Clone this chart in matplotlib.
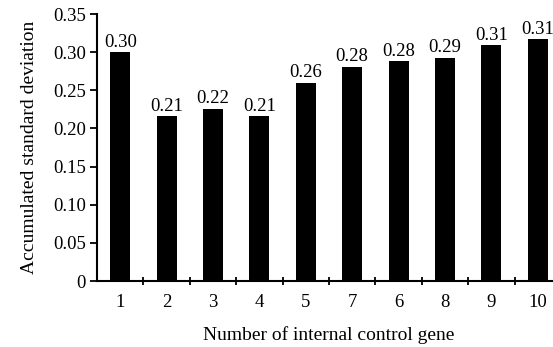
import matplotlib.pyplot as plt

plt.rcParams['font.family'] = ['Liberation Serif', 'DejaVu Serif']

# gene counts in the order shown on the x axis
genes = ['1', '2', '3', '4', '5', '7', '6', '8', '9', '10']
acc_sd = [0.300, 0.216, 0.226, 0.216, 0.260, 0.281, 0.288, 0.293, 0.309, 0.317]
bar_labels = ['0.30', '0.21', '0.22', '0.21', '0.26', '0.28', '0.28', '0.29', '0.31', '0.31']
yticks = [0, 0.05, 0.10, 0.15, 0.20, 0.25, 0.30, 0.35]
ytick_labels = ['0', '0.05', '0.10', '0.15', '0.20', '0.25', '0.30', '0.35']

fig = plt.figure(figsize=(5.53, 3.47), dpi=100)
ax = fig.add_axes([0.1754, 0.190, 0.839, 0.7695])

x = list(range(len(genes)))
bars = ax.bar(x, acc_sd, width=0.43, color='black')
for b, lab in zip(bars, bar_labels):
    ax.text(b.get_x() + b.get_width() / 2, b.get_height() + 0.002, lab,
            ha='center', va='bottom', fontsize=13.5)

ax.set_xlim(-0.5, 9.5)
ax.set_ylim(0, 0.35)
ax.set_yticks(yticks)
ax.set_yticklabels(ytick_labels)

# labels at bar centres, tick marks at boundaries between bars
ax.set_xticks(x)
ax.set_xticklabels(genes)
ax.set_xticks([i + 0.5 for i in range(len(genes) - 1)], minor=True)
ax.tick_params(axis='x', which='major', length=0, pad=9, labelsize=13.5)
ax.tick_params(axis='x', which='minor', length=6, width=1.3, direction='inout')
ax.tick_params(axis='y', length=5, width=1.3, labelsize=13.5, pad=3)

for s in ['top', 'right']:
    ax.spines[s].set_visible(False)
for s in ['left', 'bottom']:
    ax.spines[s].set_linewidth(1.5)

ax.set_xlabel('Number of internal control gene', fontsize=14, labelpad=11)
ax.set_ylabel('Accumulated standard deviation', fontsize=14, labelpad=11)

fig.savefig('out.png', dpi=100)
